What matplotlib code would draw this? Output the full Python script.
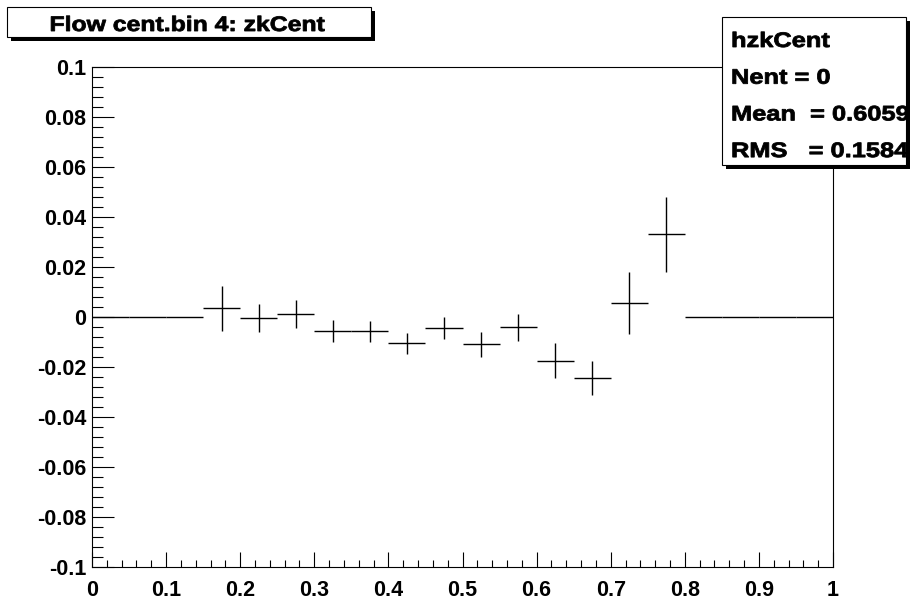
import numpy as np
import matplotlib
matplotlib.use("Agg")
import matplotlib.pyplot as plt
from matplotlib.patches import Rectangle, PathPatch
from matplotlib.textpath import TextPath
from matplotlib.font_manager import FontProperties
from matplotlib.transforms import Affine2D, IdentityTransform
from matplotlib.ticker import MultipleLocator

plt.rcParams.update({
    "font.family": ["Liberation Sans", "DejaVu Sans"],
    "font.weight": "bold",
    "font.size": 15,
})

# histogram contents (20 bins on [0, 1])
bin_lo = np.arange(0.0, 1.0, 0.05)
bin_centers = bin_lo + 0.025
values = [0.0, 0.0, 0.0, 0.0035, -0.0004, 0.0011, -0.0055, -0.0057, -0.0105,
          -0.0045, -0.0109, -0.0041, -0.0175, -0.0243, 0.0056, 0.0331,
          0.0, 0.0, 0.0, 0.0]
errors = [0.0, 0.0, 0.0, 0.0089, 0.0055, 0.0056, 0.0043, 0.0042, 0.0042,
          0.0044, 0.0050, 0.0055, 0.0070, 0.0069, 0.0123, 0.0151,
          0.0, 0.0, 0.0, 0.0]

title = "Flow cent.bin 4: zkCent"
stats_lines = ["hzkCent", "Nent = 0", "Mean  = 0.6059", "RMS   = 0.1584"]

W, H = 915, 599
fig = plt.figure(figsize=(W / 100, H / 100), dpi=100)
PT = 0.72  # points per pixel at 100 dpi
BOLD = FontProperties(family="Liberation Sans", weight="bold")


# pixel helpers (origin top-left)
def fx(px):
    return px / W


def fy(py):
    return 1 - py / H


ax_l, ax_r, ax_t, ax_b = 92, 833, 67, 567
ax = fig.add_axes([fx(ax_l), fy(ax_b), fx(ax_r) - fx(ax_l), fy(ax_t) - fy(ax_b)])

ax.errorbar(bin_centers, values, xerr=0.025, yerr=errors, fmt="none",
            ecolor="black", elinewidth=1.0, capsize=0)

ax.xaxis.set_major_locator(MultipleLocator(0.1))
ax.xaxis.set_minor_locator(MultipleLocator(0.02))
ax.yaxis.set_major_locator(MultipleLocator(0.02))
ax.yaxis.set_minor_locator(MultipleLocator(0.004))

xt = np.round(np.arange(0, 1.0001, 0.1), 2)
ax.set_xticks(xt)
ax.set_xticklabels([("0" if v == 0 else ("1" if v == 1 else f"{v:.1f}")) for v in xt])
yt = np.round(np.arange(-0.1, 0.1001, 0.02), 3)
ax.set_yticks(yt)
ax.set_yticklabels([("0" if v == 0 else (f"{v:.1f}" if abs(v) == 0.1 else f"{v:.2f}"))
                    for v in yt])
ax.set_xlim(0, 1)
ax.set_ylim(-0.1, 0.1)

ax.tick_params(axis="x", which="major", direction="in", length=15 * PT, width=0.8,
               pad=9, top=False)
ax.tick_params(axis="x", which="minor", direction="in", length=7.5 * PT, width=0.8, top=False)
ax.tick_params(axis="y", which="major", direction="in", length=22 * PT, width=0.8,
               pad=4, right=False)
ax.tick_params(axis="y", which="minor", direction="in", length=11 * PT, width=0.8, right=False)
for lab in ax.get_xticklabels() + ax.get_yticklabels():
    lab.set_fontweight("bold")
    lab.set_fontsize(15.5)
for sp in ax.spines.values():
    sp.set_linewidth(0.8)


def shadow_box(x0, y0, x1, y1, off=4):
    fig.add_artist(Rectangle((fx(x0 + off), fy(y1 + off)), fx(x1 - x0), fy(y0) - fy(y1),
                             transform=fig.transFigure, facecolor="black",
                             edgecolor="black", lw=0, zorder=10))
    fig.add_artist(Rectangle((fx(x0), fy(y1)), fx(x1 - x0), fy(y0) - fy(y1),
                             transform=fig.transFigure, facecolor="white",
                             edgecolor="black", lw=0.8, zorder=11))


def wide_text(x, baseline, s, size_px=21, sx=1.2, ha="left"):
    # heavy bold text, stretched horizontally, placed in pixel coords
    tp = TextPath((0, 0), s, size=size_px, prop=BOLD)
    w = tp.get_extents().x1 * sx
    x0 = x - w / 2 if ha == "center" else x
    tr = Affine2D().scale(sx, 1.0).translate(x0, H - baseline)
    patch = PathPatch(tr.transform_path(tp), facecolor="black", edgecolor="black",
                      linewidth=0.6, transform=IdentityTransform(), zorder=12)
    fig.add_artist(patch)


# title pave
shadow_box(7, 7, 371, 37)
wide_text(187, 31, title, sx=1.18, ha="center")

# statistics pave
shadow_box(722, 17, 906, 165)
for i, line in enumerate(stats_lines):
    wide_text(731, 47 + i * 36.7, line, sx=1.21)

fig.savefig("out.png", dpi=100, facecolor="white")
